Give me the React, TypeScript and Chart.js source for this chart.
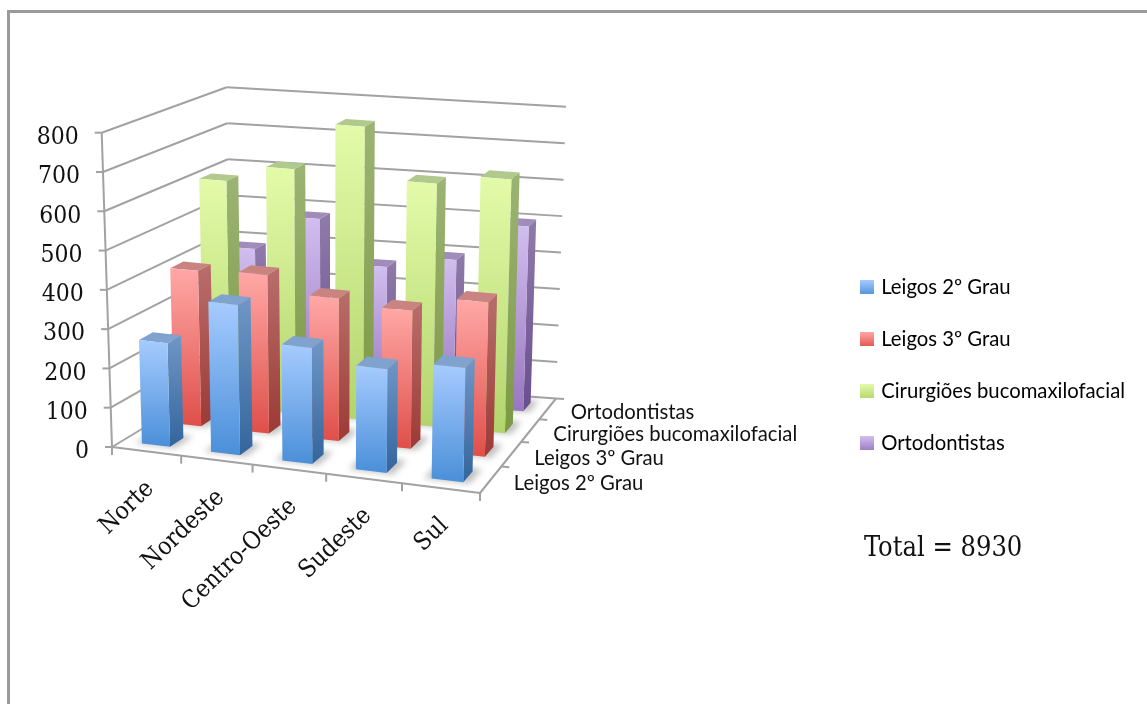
import React, { useEffect, useRef } from "react";
import { Chart, BarController, registerables } from "chart.js";

Chart.register(...registerables);

const regions = ["Norte", "Nordeste", "Centro-Oeste", "Sudeste", "Sul"];
const seriesNames = ["Leigos 2º Grau", "Leigos 3º Grau", "Cirurgiões bucomaxilofacial", "Ortodontistas"];
const leigos2 = [265, 383, 295, 263, 288];
const leigos3 = [407, 414, 371, 358, 399];
const cirurgioes = [606, 652, 780, 644, 671];
const ortodontistas = [385, 480, 362, 395, 500];
const totalLabel = "Total = 8930";

type Pt = [number, number];
type Quad = [Pt, Pt, Pt, Pt]; // (0,0) (1,0) (0,1) (1,1)

// Bar finishes: [front top, front bottom, side top, side bottom, roof]
const finishes = [
  ["#A6CBFF", "#4A8FD8", "#7097C6", "#33659C", "#7FA2CF"],
  ["#FFA8A6", "#DF4F4A", "#B96E6C", "#9C3A36", "#C98482"],
  ["#E3FBA9", "#B3D46C", "#9CB474", "#7C9843", "#B0C98C"],
  ["#D2BEEF", "#9877BF", "#8F7BAA", "#694E8F", "#A08BBA"],
];

const SANS = "Lato, 'Liberation Sans', sans-serif";
const SERIF = "'DejaVu Serif Condensed', 'DejaVu Serif', serif";

// Floor and ceiling of the perspective box, in canvas pixels.
const floorQuad: Quad = [[112, 447], [480, 493], [231.4, 375], [556, 398.5]];
const roofQuad: Quad = [[101.7, 132.7], [486.6, 173], [226.7, 87.3], [566, 106.7]];

const warpU = (u: number) => u * (1 + 0.075 * (u - 1));
const warpW = (w: number) => w * (1 - 0.06 * (w - 1)) + 0.1 * w * (1 - w);

function onQuad(q: Quad, u: number, w: number): Pt {
  const a = warpU(u), b = warpW(w);
  const fx = q[0][0] + (q[1][0] - q[0][0]) * a;
  const fy = q[0][1] + (q[1][1] - q[0][1]) * a;
  const bx = q[2][0] + (q[3][0] - q[2][0]) * a;
  const by = q[2][1] + (q[3][1] - q[2][1]) * a;
  return [fx + (bx - fx) * b, fy + (by - fy) * b];
}

function project(u: number, v: number, w: number): Pt {
  const a = onQuad(floorQuad, u, w), b = onQuad(roofQuad, u, w);
  return [a[0] + (b[0] - a[0]) * v, a[1] + (b[1] - a[1]) * v];
}

function poly(ctx: CanvasRenderingContext2D, pts: Pt[]) {
  ctx.beginPath();
  pts.forEach((p, i) => (i ? ctx.lineTo(p[0], p[1]) : ctx.moveTo(p[0], p[1])));
  ctx.closePath();
}

function fillGradient(ctx: CanvasRenderingContext2D, pts: Pt[], top: string, bottom: string) {
  const ys = pts.map((p) => p[1]);
  const g = ctx.createLinearGradient(0, Math.min(...ys), 0, Math.max(...ys));
  g.addColorStop(0, top);
  g.addColorStop(1, bottom);
  ctx.fillStyle = g;
  poly(ctx, pts);
  ctx.fill();
}

// Bar controller that extrudes each value into a box inside the perspective frame.
class Bar3DController extends BarController {
  static id = "bar3d";
  draw() {
    const ctx = this.chart.ctx;
    const meta = this.getMeta();
    const xs = meta.xScale as any;
    const ys = meta.yScale as any;
    const row = this.index;
    const rows = this.chart.data.datasets.length;
    const cols = xs.getLabels().length;
    const ds = this.getDataset() as any;
    const halfU = (ds.barPercentage / cols) / 2;
    const halfW = (ds.depthPercentage / rows) / 2;
    const wMid = (row + 0.5) / rows;
    const f = finishes[row];
    ctx.save();
    meta.data.forEach((_: any, i: number) => {
      const parsed = this.getParsed(i) as any;
      const uMid = (xs.getPixelForValue(i) - xs.left) / xs.width;
      const v = (ys.bottom - ys.getPixelForValue(parsed.y)) / (ys.bottom - ys.top);
      const u0 = uMid - halfU, u1 = uMid + halfU;
      const w0 = wMid - halfW, w1 = wMid + halfW;

      // soft contact shadow on the floor
      ctx.save();
      ctx.filter = "blur(3px)";
      ctx.fillStyle = "rgba(90,90,90,0.38)";
      poly(ctx, [project(u0 - 0.018, 0, w0 - 0.005), project(u1 + 0.018, 0, w0 - 0.005), project(u1 + 0.018, 0, w1 + 0.03), project(u0 - 0.018, 0, w1 + 0.03)]);
      ctx.fill();
      ctx.restore();

      fillGradient(ctx, [project(u1, 0, w0), project(u1, v, w0), project(u1, v, w1), project(u1, 0, w1)], f[2], f[3]);
      ctx.fillStyle = f[4];
      poly(ctx, [project(u0, v, w0), project(u1, v, w0), project(u1, v, w1), project(u0, v, w1)]);
      ctx.fill();
      fillGradient(ctx, [project(u0, 0, w0), project(u1, 0, w0), project(u1, v, w0), project(u0, v, w0)], f[0], f[1]);
    });
    ctx.restore();
  }
}
Chart.register(Bar3DController);

const GRID = "#A2A2A2";

function line(ctx: CanvasRenderingContext2D, a: Pt, b: Pt) {
  ctx.beginPath();
  ctx.moveTo(a[0], a[1]);
  ctx.lineTo(b[0], b[1]);
  ctx.stroke();
}

// Walls, floor edges, ticks, axis texts and the total caption.
const frame3d = {
  id: "frame3d",
  beforeDraw(chart: any) {
    const legend = chart.legend;
    if (!legend || !legend.legendHitBoxes) return;
    legend.legendItems.forEach((item: any, i: number) => {
      const box = legend.legendHitBoxes[i];
      if (!box) return;
      const g = chart.ctx.createLinearGradient(0, box.top + 3, 0, box.top + 19);
      g.addColorStop(0, finishes[i][0]);
      g.addColorStop(1, finishes[i][1]);
      item.fillStyle = g;
      item.strokeStyle = g;
    });
  },
  beforeDatasetsDraw(chart: any) {
    const ctx = chart.ctx as CanvasRenderingContext2D;
    const ys = chart.scales.y;
    const nCols = regions.length;
    const nRows = seriesNames.length;
    ctx.save();
    ctx.strokeStyle = GRID;
    ctx.lineWidth = 2;

    ys.ticks.forEach((t: any) => {
      const v = (ys.bottom - ys.getPixelForValue(t.value)) / (ys.bottom - ys.top);
      line(ctx, project(0, v, 0), project(0, v, 1));
      line(ctx, project(0, v, 1), project(1, v, 1));
      const a = project(0, v, 0);
      line(ctx, a, [a[0] - 7, a[1]]);
    });
    line(ctx, project(0, 0, 0), project(0, 1, 0));
    line(ctx, project(0, 0, 0), project(1, 0, 0));
    line(ctx, project(1, 0, 0), project(1, 0, 1));
    for (let i = 0; i <= nCols; i++) {
      const a = project(i / nCols, 0, 0);
      line(ctx, a, [a[0], a[1] + 8]);
    }
    for (let j = 1; j <= nRows; j++) {
      const a = project(1, 0, j / nRows);
      line(ctx, a, [a[0] + 8, a[1] + 0.6]);
    }
    ctx.restore();
  },
  afterDatasetsDraw(chart: any) {
    const ctx = chart.ctx as CanvasRenderingContext2D;
    const ys = chart.scales.y;
    const nCols = regions.length;
    const nRows = seriesNames.length;
    ctx.save();
    ctx.fillStyle = "#111";

    ctx.font = `24.5px ${SERIF}`;
    ctx.textAlign = "right";
    ctx.textBaseline = "middle";
    ys.ticks.forEach((t: any) => {
      const v = (ys.bottom - ys.getPixelForValue(t.value)) / (ys.bottom - ys.top);
      const a = project(0, v, 0);
      ctx.fillText(String(t.value), a[0] - 23, a[1] + 5);
    });

    regions.forEach((name, i) => {
      const a = project((i + 0.5) / nCols, 0, 0);
      ctx.save();
      ctx.translate(a[0] + 4, a[1] + 34);
      ctx.rotate((-44 * Math.PI) / 180);
      ctx.fillText(name, 0, 0);
      ctx.restore();
    });

    ctx.font = `20.3px ${SANS}`;
    ctx.textAlign = "left";
    seriesNames.forEach((name, j) => {
      const a = project(1, 0, (j + 0.5) / nRows);
      ctx.fillText(name, a[0] + 23, a[1] + 4);
    });

    ctx.font = `27px ${SERIF}`;
    ctx.textBaseline = "alphabetic";
    ctx.fillText(totalLabel, 864, 556);
    ctx.restore();
  },
};

export default function App() {
  const ref = useRef<HTMLCanvasElement>(null);
  useEffect(() => {
    const palette = finishes;
    const values = [leigos2, leigos3, cirurgioes, ortodontistas];
    const chart = new Chart(ref.current as HTMLCanvasElement, {
      type: "bar3d" as any,
      data: {
        labels: regions,
        datasets: seriesNames.map((label, i) => ({
          label,
          data: values[i],
          barPercentage: 0.41,
          depthPercentage: 0.42,
          backgroundColor: palette[i][1],
        })),
      },
      options: {
        animation: false,
        responsive: false,
        events: [],
        layout: { padding: { top: 26, right: 12, bottom: 0, left: 0 } },
        scales: {
          x: { type: "category", display: false },
          y: { type: "linear", display: false, min: 0, max: 800, ticks: { stepSize: 100 } },
        },
        plugins: {
          tooltip: { enabled: false },
          legend: {
            position: "right",
            labels: {
              font: { family: SANS, size: 20.3 },
              color: "#111",
              boxWidth: 8,
              boxHeight: 8,
              padding: 31.7,
              generateLabels: (c: any) =>
                c.data.datasets.map((d: any, i: number) => ({
                  text: d.label,
                  fillStyle: finishes[i][1],
                  strokeStyle: finishes[i][1],
                  lineWidth: 6,
                  datasetIndex: i,
                  hidden: false,
                })),
            },
          },
        },
      } as any,
      plugins: [frame3d],
    } as any);
    return () => chart.destroy();
  }, []);
  return (
    <div style={{ position: "absolute", left: 0, top: 0, width: 1147, height: 704, background: "#fff", overflow: "hidden" }}>
      <div style={{ position: "absolute", left: 7, top: 10, right: 0, bottom: 0, borderLeft: "3px solid #9A9A9A", borderTop: "3px solid #9A9A9A" }} />
      <canvas ref={ref} width={1147} height={704} style={{ position: "absolute", left: 0, top: 0 }} />
    </div>
  );
}
